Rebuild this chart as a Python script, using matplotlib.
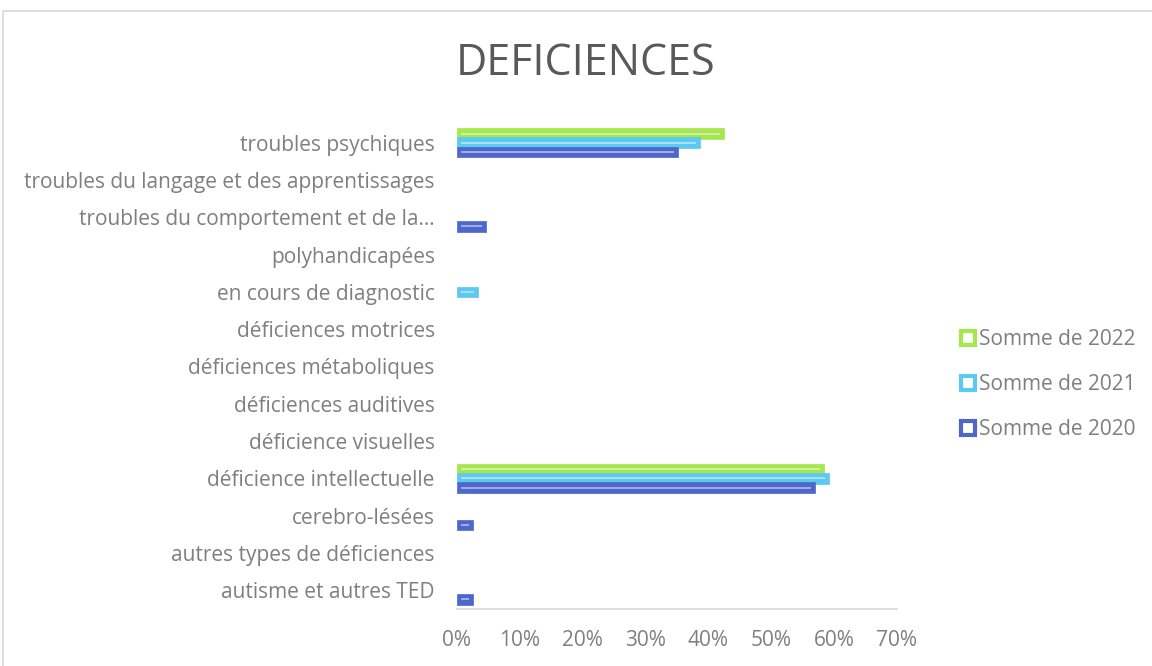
import numpy as np
import matplotlib.pyplot as plt
from matplotlib.lines import Line2D
from matplotlib.patches import Rectangle
from matplotlib.ticker import FuncFormatter

plt.rcParams['font.family'] = ['Open Sans', 'DejaVu Sans']

categories = [
    "autisme et autres TED",
    "autres types de déficiences",
    "cerebro-lésées",
    "déficience intellectuelle",
    "déficience visuelles",
    "déficiences auditives",
    "déficiences métaboliques",
    "déficiences motrices",
    "en cours de diagnostic",
    "polyhandicapées",
    "troubles du comportement et de la…",
    "troubles du langage et des apprentissages",
    "troubles psychiques",
]
# valeurs en %
somme_2020 = [2.5, 0, 2.5, 57.0, 0, 0, 0, 0, 0, 0, 4.6, 0, 35.2]
somme_2021 = [0, 0, 0, 59.2, 0, 0, 0, 0, 3.3, 0, 0, 0, 38.7]
somme_2022 = [0, 0, 0, 58.4, 0, 0, 0, 0, 0, 0, 0, 0, 42.5]

series = [
    ("Somme de 2022", somme_2022, "#A6E64E", 0.245),
    ("Somme de 2021", somme_2021, "#5CC9F1", 0.0),
    ("Somme de 2020", somme_2020, "#4F67CB", -0.245),
]

fig = plt.figure(figsize=(11.52, 6.66), dpi=100)
ax = fig.add_axes([0.3967, 0.0856, 0.3819, 0.7282])

y = np.arange(len(categories))
h = 0.28
inset = 0.6
for name, vals, col, off in series:
    for yi, v in zip(y, vals):
        if v <= 0:
            continue
        ax.barh(yi + off, v, height=h, color=col, edgecolor=col, linewidth=0.5, zorder=2)
        ax.plot([inset, v - inset], [yi + off, yi + off], color="white", alpha=0.5, lw=1.3, zorder=3,
                solid_capstyle="butt")

ax.set_xlim(0, 70)
ax.set_ylim(-0.5, len(categories) - 0.5)
ax.set_xticks(np.arange(0, 71, 10))
ax.xaxis.set_major_formatter(FuncFormatter(lambda v, p: f"{int(v)}%"))
ax.set_yticks(y)
ax.set_yticklabels(categories)
ax.tick_params(axis="both", length=0, labelsize=15, colors="#7F7F7F")
ax.tick_params(axis="y", pad=16)
ax.tick_params(axis="x", pad=15)
for s in ["top", "right", "left"]:
    ax.spines[s].set_visible(False)
ax.spines["bottom"].set_color("#D9D9D9")
ax.spines["bottom"].set_linewidth(1.2)

fig.text(0.508, 0.904, "DEFICIENCES", ha="center", va="center", fontsize=31, color="#595959")

handles = [Line2D([0], [0], marker="s", linestyle="none", markersize=9.5, markerfacecolor="white",
                  markeredgecolor=col, markeredgewidth=3) for _, _, col, _ in series]
fig.legend(handles, [s[0] for s in series], loc="center left", bbox_to_anchor=(0.826, 0.4225),
           frameon=False, fontsize=15, labelcolor="#7F7F7F", handletextpad=0.1,
           handlelength=0.8, labelspacing=1.15, borderaxespad=0)

fig.patches.append(Rectangle((3 / 1152, -0.05), 1.2, 1 - 11 / 666 + 0.05, transform=fig.transFigure,
                             fill=False, edgecolor="#D9D9D9", linewidth=1.2))

fig.savefig("out.png", dpi=100)
